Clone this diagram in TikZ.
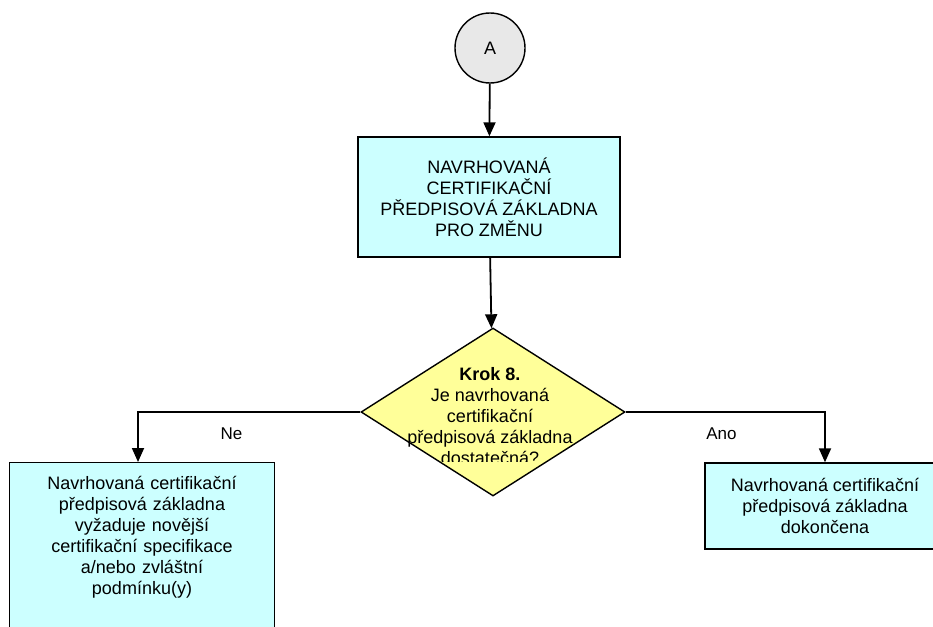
\documentclass[tikz,border=0pt]{standalone}
\usepackage{fontspec}
\setmainfont{Liberation Sans}
\usetikzlibrary{positioning, shapes.geometric, arrows.meta}
\definecolor{boxcyan}{HTML}{CCFFFF}
\definecolor{deciyellow}{HTML}{FFFF99}
\definecolor{conngray}{HTML}{E8E8E8}

\begin{document}
\begin{tikzpicture}[
  x=1pt, y=-1pt,
  font=\fontsize{18}{21}\selectfont,
  stepbox/.style={draw=black, line width=1.4pt, fill=boxcyan, align=center, inner sep=0pt},
  decision/.style={diamond, draw=black, line width=1.4pt, fill=deciyellow, inner sep=0pt, minimum width=264pt, minimum height=168pt},
  conn/.style={circle, draw=black, line width=1.4pt, fill=conngray, minimum size=70pt, inner sep=0pt},
  arr/.style={-{Triangle[width=12pt,length=14pt]}, line width=1.8pt},
  lbl/.style={font=\fontsize{17}{20}\selectfont, inner sep=2pt}
]
  \path[use as bounding box] (0,0) rectangle (933,626);
  \clip (0,0) rectangle (933,626);

  \node[conn] (a) at (490,48) {A};
  \node[stepbox, minimum width=262pt, minimum height=120pt] (zmena) at (489,197) {NAVRHOVANÁ\\CERTIFIKAČNÍ\\PŘEDPISOVÁ ZÁKLADNA\\PRO ZMĚNU};
  \node[decision] (krok) at (493,412) {};
  \begin{scope}
    \clip (360,330) rectangle (626,461);
    \node[align=center, inner sep=0pt] (krokt) at (490,416) {\textbf{Krok 8.}\\Je navrhovaná\\certifikační\\předpisová základna\\dostatečná?};
  \end{scope}
  \node[stepbox, anchor=north, text width=255pt, minimum width=265pt, inner ysep=14pt] (novejsi) at (142,462) {Navrhovaná certifikační\\předpisová základna\\vyžaduje novější\\certifikační specifikace\\a/nebo zvláštní\\podmínku(y)\\\rule{0pt}{70pt}};
  \node[stepbox, minimum width=240pt, minimum height=86pt] (dokoncena) at (825,506) {Navrhovaná certifikační\\předpisová základna\\dokončena};

  \draw[arr] (a) -- (zmena);
  \draw[arr] (zmena) -- (krok);
  \draw[arr] (krok.west) -| node[lbl, below=13pt, pos=0.29] {Ne} ([xshift=-4pt]novejsi.north);
  \draw[arr] (krok.east) -| node[lbl, below=13pt, pos=0.24] {Ano} (dokoncena.north);
\end{tikzpicture}
\end{document}
